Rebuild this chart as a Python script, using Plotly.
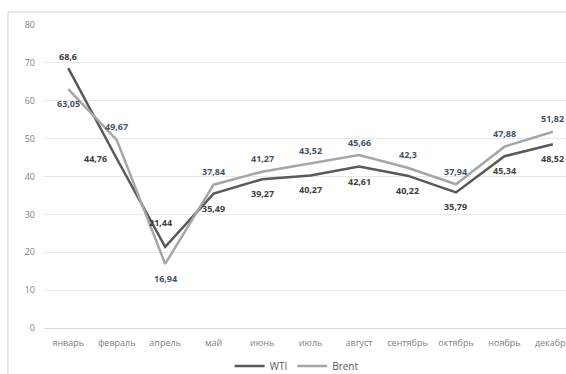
import plotly.graph_objects as go

months = ["январь", "февраль", "апрель", "май", "июнь", "июль", "август",
          "сентябрь", "октябрь", "ноябрь", "декабрь"]
wti = [68.6, 44.76, 21.44, 35.49, 39.27, 40.27, 42.61, 40.22, 35.79, 45.34, 48.52]
brent = [63.05, 49.67, 16.94, 37.84, 41.27, 43.52, 45.66, 42.3, 37.94, 47.88, 51.82]
y_ticks = [0, 10, 20, 30, 40, 50, 60, 70, 80]

# label offsets (px) relative to each point: (xshift, yshift)
TOP, BOT = 13, -14.5
wti_off = [(0, 12), (-21, 0), (-5, 24)] + [(0, BOT)] * 8
brent_off = [(0, BOT), (0, TOP), (0, BOT)] + [(0, TOP)] * 8

def fmt(v):
    return ("%g" % v).replace(".", ",")

FONT = "Open Sans"

fig = go.Figure()
fig.add_trace(go.Scatter(
    x=months, y=wti, name="WTI", mode="lines",
    line=dict(color="#595959", width=2.5),
))
fig.add_trace(go.Scatter(
    x=months, y=brent, name="Brent", mode="lines",
    line=dict(color="#a6a6a6", width=2.5),
))

annotations = []
for vals, offs, col in ((wti, wti_off, "#404040"), (brent, brent_off, "#44546a")):
    for m, v, (dx, dy) in zip(months, vals, offs):
        annotations.append(dict(
            x=m, y=v, xref="x", yref="y", text="<b>%s</b>" % fmt(v),
            showarrow=False, xanchor="center", yanchor="middle",
            xshift=dx, yshift=dy,
            font=dict(color=col, size=9, family=FONT),
        ))

fig.update_layout(
    width=566, height=374,
    margin=dict(l=44, r=0, t=25, b=46, autoexpand=False),
    paper_bgcolor="white", plot_bgcolor="white",
    font=dict(family=FONT, size=9, color="#808080"),
    showlegend=True,
    legend=dict(orientation="h", x=0.484, xanchor="center", y=-0.125, yanchor="middle",
                font=dict(size=10, color="#595959"), itemwidth=30),
    xaxis=dict(range=[-0.5, 10.27], showgrid=False, showline=False, zeroline=False,
               tickfont=dict(size=9, color="#808080"), ticks="", ticklabelstandoff=8),
    yaxis=dict(range=[0, 80], tickvals=y_ticks, showgrid=True, gridcolor="#e8e8e8",
               gridwidth=1, zeroline=True, zerolinecolor="#d9d9d9", zerolinewidth=1,
               showline=False, tickfont=dict(size=9, color="#808080"), ticks="",
               ticklabelstandoff=8),
    annotations=annotations,
    shapes=[dict(type="rect", xref="paper", yref="paper", x0=-0.069, x1=1.2,
                 y0=-0.3, y1=1.043, line=dict(color="#d0d0d0", width=1), layer="above")],
)

fig.write_html("out.html",
               config={"displayModeBar": False},
               post_script="document.body.style.margin='0';document.body.style.overflow='hidden';")
